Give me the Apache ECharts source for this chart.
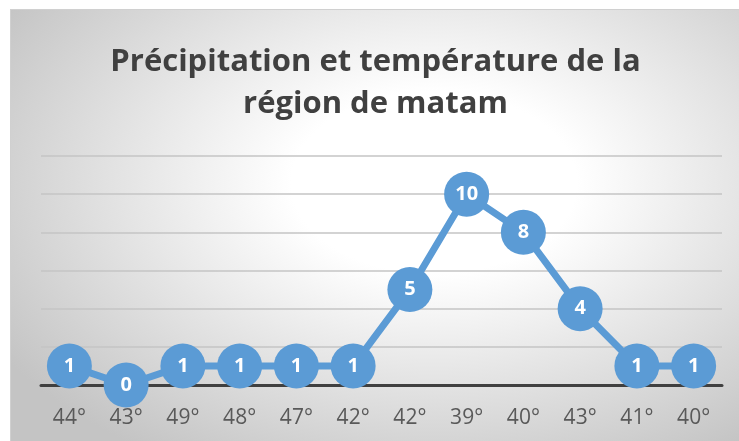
<!DOCTYPE html>
<html>
<head>
<meta charset="utf-8">
<script src="https://cdn.jsdelivr.net/npm/echarts@6/dist/echarts.min.js"></script>
<style>
  html, body { margin: 0; padding: 0; background: #fff; }
  #wrap { position: relative; width: 739px; height: 441px; overflow: hidden; }
  #chart {
    position: absolute; left: 10px; top: 9px; width: 729px; height: 432px;
    border-top: 1px solid #d0d0d0; border-left: 1px solid #d0d0d0;
    background: radial-gradient(ellipse 70% 75% at 58% 40%, #ffffff 28%, #c4c4c4 100%);
  }
</style>
</head>
<body>
<div id="wrap"><div id="chart"></div></div>
<script>
// temperatures shown under each month
const temperatures = ['44°', '43°', '49°', '48°', '47°', '42°', '42°', '39°', '40°', '43°', '41°', '40°'];
// precipitation values
const precipitation = [1, 0, 1, 1, 1, 1, 5, 10, 8, 4, 1, 1];

const chart = echarts.init(document.getElementById('chart'));

chart.setOption({
  animation: false,
  title: {
    text: 'Précipitation et température de la\nrégion de matam',
    left: 'center',
    top: 26,
    textStyle: {
      fontFamily: '"Open Sans", sans-serif',
      fontSize: 31,
      lineHeight: 42,
      fontWeight: 'bold',
      color: '#404040'
    }
  },
  grid: {left: 30, right: 18, top: 146, bottom: 57},
  xAxis: {
    type: 'category',
    data: temperatures,
    boundaryGap: true,
    axisLine: {lineStyle: {color: '#404040', width: 3}},
    axisTick: {show: false},
    axisLabel: {
      margin: 23,
      fontFamily: '"Open Sans", sans-serif',
      fontSize: 21,
      color: '#595959'
    }
  },
  yAxis: {
    type: 'value',
    min: 0,
    max: 12,
    interval: 2,
    axisLabel: {show: false},
    axisLine: {show: false},
    axisTick: {show: false},
    splitLine: {lineStyle: {color: '#c4c4c4', width: 1.5}}
  },
  series: [{
    type: 'line',
    data: precipitation,
    symbol: 'circle',
    symbolSize: 45,
    lineStyle: {color: '#5b9bd5', width: 7},
    itemStyle: {color: '#5b9bd5'},
    label: {
      show: true,
      position: 'inside',
      fontFamily: '"Open Sans", sans-serif',
      fontWeight: 'bold',
      fontSize: 20,
      color: '#ffffff'
    }
  }]
});
</script>
</body>
</html>
